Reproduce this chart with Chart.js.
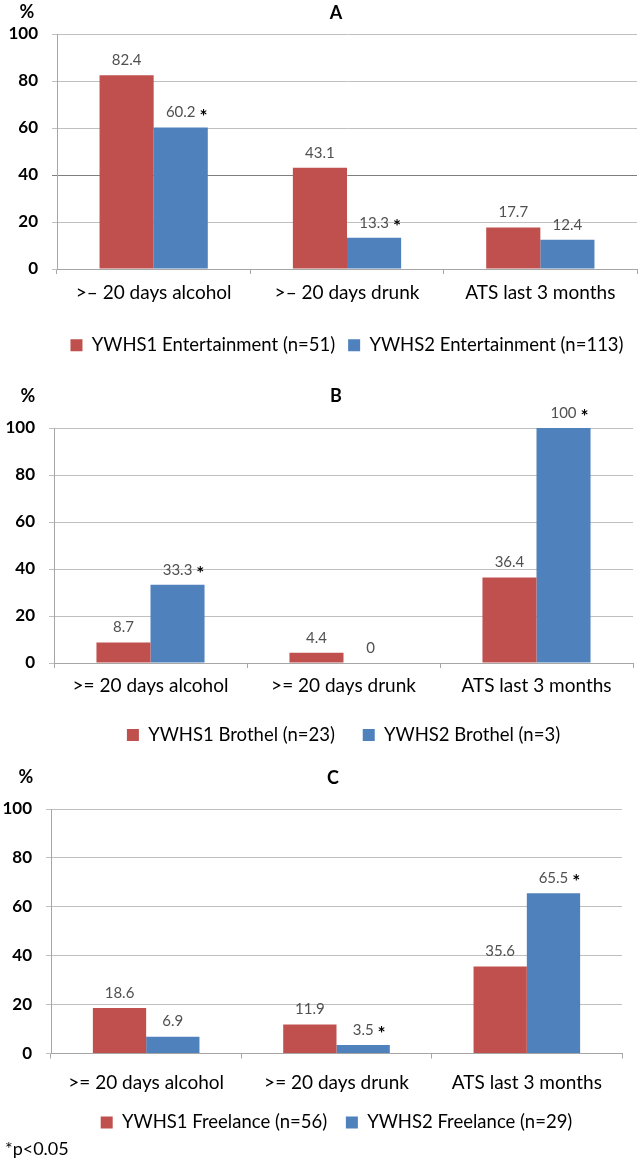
<!DOCTYPE html>
<html>
<head>
<meta charset="utf-8">
<script src="https://cdn.jsdelivr.net/npm/chart.js@4.4.1/dist/chart.umd.min.js"></script>
<style>
  body { margin: 0; width: 640px; height: 1168px; background: #fff; position: relative; overflow: hidden; font-family: Lato, sans-serif; }
  .panel { position: absolute; left: 0; width: 640px; }
  .tag { position: absolute; font-weight: bold; font-size: 18px; color: #000; transform: translate(-50%, -50%); }
  .note { position: absolute; left: 5px; top: 1137px; font-size: 18px; color: #000; }
</style>
</head>
<body>
<div class="panel" style="top:0;height:380px"><canvas id="chartA"></canvas></div>
<div class="panel" style="top:380px;height:385px"><canvas id="chartB"></canvas></div>
<div class="panel" style="top:765px;height:403px"><canvas id="chartC"></canvas></div>

<div class="tag" style="left:27px;top:11px">%</div>
<div class="tag" style="left:336px;top:12px">A</div>
<div class="tag" style="left:28px;top:395px">%</div>
<div class="tag" style="left:336px;top:395px">B</div>
<div class="tag" style="left:26px;top:776px">%</div>
<div class="tag" style="left:333px;top:777px">C</div>
<div class="note">*p&lt;0.05</div>

<script>
const RED = '#C0504D';
const BLUE = '#4F81BD';

// panel A - entertainment venues
const catsA = ['>\u2013 20 days alcohol', '>\u2013 20 days drunk', 'ATS last 3 months'];
const ywhs1A = [82.4, 43.1, 17.7];
const ywhs2A = [60.2, 13.3, 12.4];
const sigA = [true, true, false];

// panel B - brothels
const catsB = ['>= 20 days alcohol', '>= 20 days drunk', 'ATS last 3 months'];
const ywhs1B = [8.7, 4.4, 36.4];
const ywhs2B = [33.3, 0, 100];
const sigB = [true, false, true];

// panel C - freelance
const catsC = ['>= 20 days alcohol', '>= 20 days drunk', 'ATS last 3 months'];
const ywhs1C = [18.6, 11.9, 35.6];
const ywhs2C = [6.9, 3.5, 65.5];
const sigC = [false, true, true];

const yTicks = [0, 20, 40, 60, 80, 100];

// Excel-style value labels above the bars, with a bold star for significant changes
const valueLabels = {
  id: 'valueLabels',
  afterDatasetsDraw(chart) {
    const ctx = chart.ctx;
    ctx.save();
    ctx.textBaseline = 'middle';
    chart.data.datasets.forEach((ds, di) => {
      const meta = chart.getDatasetMeta(di);
      meta.data.forEach((bar, i) => {
        const txt = String(ds.data[i]);
        const y = bar.y - 15;
        ctx.font = '15px Lato';
        ctx.fillStyle = '#505050';
        ctx.textAlign = 'center';
        ctx.fillText(txt, bar.x, y);
        if (ds.sig && ds.sig[i]) {
          const w = ctx.measureText(txt).width;
          ctx.font = 'bold 19px Lato';
          ctx.fillStyle = '#000';
          ctx.textAlign = 'left';
          ctx.fillText('*', bar.x + w / 2 + 4, y + 4);
        }
      });
    });
    ctx.restore();
  }
};

function buildPanel(id, cats, red, blue, sig, redName, blueName, box) {
  return new Chart(document.getElementById(id), {
    type: 'bar',
    data: {
      labels: cats,
      datasets: [
        { label: redName, data: red, backgroundColor: RED },
        { label: blueName, data: blue, backgroundColor: BLUE, sig: sig }
      ]
    },
    options: {
      responsive: true,
      maintainAspectRatio: false,
      animation: false,
      layout: { padding: { top: box.top, right: box.right, bottom: box.bottom, left: 0 } },
      datasets: { bar: { categoryPercentage: 0.56, barPercentage: 1 } },
      plugins: {
        legend: {
          position: 'bottom',
          fullSize: false,
          labels: { boxWidth: 12, boxHeight: 12, padding: box.legPad, color: '#000', font: { family: 'Lato', size: 18.5 } }
        },
        tooltip: { enabled: false }
      },
      scales: {
        x: {
          grid: { display: true, drawOnChartArea: false, drawTicks: true, tickLength: 5, color: '#a6a6a6', offset: true },
          border: { color: '#a6a6a6' },
          ticks: { padding: box.xPad, color: '#000', font: { family: 'Lato', size: 19 } },
          afterFit: (s) => { s.height = box.xH; }
        },
        y: {
          min: 0,
          max: 100,
          afterBuildTicks: (s) => { s.ticks = yTicks.map(v => ({ value: v })); },
          ticks: { padding: 14, color: '#000', font: { family: 'Lato', size: 17, weight: 'bold' } },
          grid: { tickLength: 5, color: (c) => (box.darkTick === c.tick.value ? '#7f7f7f' : '#bfbfbf') },
          border: { color: '#a6a6a6' },
          afterFit: (s) => { s.width = box.yW; }
        }
      }
    },
    plugins: [valueLabels]
  });
}

buildPanel('chartA', catsA, ywhs1A, ywhs2A, sigA,
  'YWHS1 Entertainment (n=51)', 'YWHS2 Entertainment (n=113)',
  { top: 34, right: 3, bottom: 15.5, yW: 57, xH: 54, xPad: 7.5, legPad: 13, darkTick: 40 });

buildPanel('chartB', catsB, ywhs1B, ywhs2B, sigB,
  'YWHS1 Brothel (n=23)', 'YWHS2 Brothel (n=3)',
  { top: 48, right: 7, bottom: 10.75, yW: 54, xH: 35, xPad: 6.5, legPad: 27.75 });

buildPanel('chartC', catsC, ywhs1C, ywhs2C, sigC,
  'YWHS1 Freelance (n=56)', 'YWHS2 Freelance (n=29)',
  { top: 44, right: 18, bottom: 26.25, yW: 51, xH: 41, xPad: 12.5, legPad: 18.75 });
</script>
</body>
</html>
